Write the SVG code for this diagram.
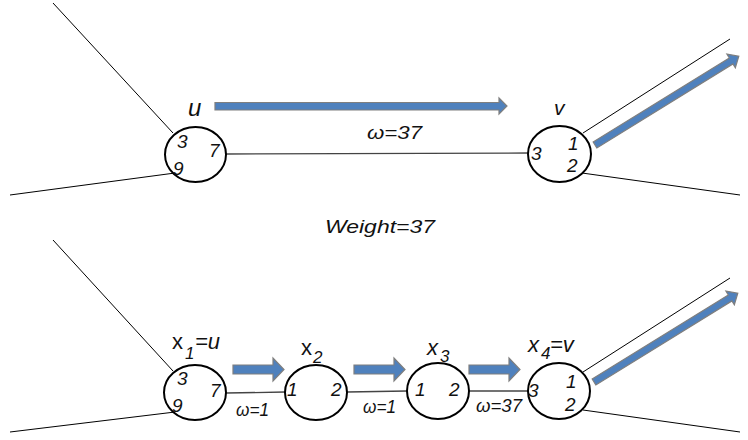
<svg xmlns="http://www.w3.org/2000/svg" width="748" height="440" viewBox="0 0 748 440">
<style>
.t{font-family:"Liberation Sans",Arial,sans-serif;font-style:italic;fill:#111}
.n{font-size:19px}
.w{font-size:19px}
.node{fill:none;stroke:#000;stroke-width:2}
.ln{stroke:#000;stroke-width:1;fill:none}
.hl{stroke:#444;stroke-width:1.3;fill:none}
.ar{fill:#4F81BD;stroke:#7F7F7F;stroke-width:1.2}
</style>
<rect width="748" height="440" fill="#fff"/>
<g id="connectors">
<line class="ln" x1="53" y1="3" x2="173" y2="133"/>
<line class="ln" x1="10" y1="195" x2="175" y2="173"/>
<line class="hl" x1="226" y1="154" x2="529" y2="153"/>
<line class="ln" x1="583" y1="133" x2="730" y2="39"/>
<line class="ln" x1="582" y1="173" x2="740" y2="195"/>
<line class="ln" x1="53" y1="240" x2="173" y2="371"/>
<line class="ln" x1="10" y1="432" x2="175" y2="412"/>
<line class="hl" x1="226" y1="393" x2="285" y2="392"/>
<line class="hl" x1="347" y1="392" x2="407" y2="391"/>
<line class="hl" x1="469" y1="391" x2="528" y2="391"/>
<line class="ln" x1="583" y1="372" x2="730" y2="278"/>
<line class="ln" x1="583" y1="410" x2="740" y2="432"/>
</g>
<g id="arrows">
<polygon class="ar" points="215,102.5 499,102.5 499,98 507,106 499,114 499,110 215,110"/>
<polygon class="ar" transform="translate(595,145) rotate(-31.7)" points="0,-3.5 160,-3.5 160,-8 169,0 160,8 160,3.5 0,3.5"/>
<polygon class="ar" points="233,365 273,365 273,358 284,369.5 273,381 273,374 233,374"/>
<polygon class="ar" points="354,365 394,365 394,358 405,369.5 394,381 394,374 354,374"/>
<polygon class="ar" points="469,365 509,365 509,358 520,369.5 509,381 509,374 469,374"/>
<polygon class="ar" transform="translate(594,382) rotate(-31.7)" points="0,-3.5 160,-3.5 160,-8 169,0 160,8 160,3.5 0,3.5"/>
</g>
<g id="u">
<ellipse class="node" cx="195.5" cy="154.5" rx="30.5" ry="27.5"/>
<text class="t" x="188" y="116" style="font-size:24px">u</text>
<text class="t n" x="177" y="148">3</text>
<text class="t n" x="209" y="157">7</text>
<text class="t n" x="173" y="175">9</text>
</g>
<g id="v">
<ellipse class="node" cx="559.5" cy="154" rx="31.5" ry="28"/>
<text class="t" x="554" y="115" style="font-size:21px">v</text>
<text class="t n" x="531" y="160">3</text>
<text class="t n" x="568" y="150">1</text>
<text class="t n" x="567" y="172">2</text>
</g>
<g id="labels">
<text class="t w" x="367" y="139" textLength="55" lengthAdjust="spacingAndGlyphs">ω=37</text>
<text class="t w" x="325" y="233" textLength="110" lengthAdjust="spacingAndGlyphs">Weight=37</text>
<text class="t w" x="236" y="416" textLength="33" lengthAdjust="spacingAndGlyphs">ω=1</text>
<text class="t w" x="363" y="413" textLength="33" lengthAdjust="spacingAndGlyphs">ω=1</text>
<text class="t w" x="476" y="412" textLength="46" lengthAdjust="spacingAndGlyphs">ω=37</text>
</g>
<g id="x1">
<ellipse class="node" cx="195" cy="392.5" rx="31" ry="27.5"/>
<text class="t" x="172" y="349" style="font-size:22px;font-style:normal">x</text>
<text class="t" x="185" y="359" style="font-size:17px">1</text>
<text class="t" x="195" y="349" style="font-size:22px">=u</text>
<text class="t n" x="177" y="385">3</text>
<text class="t n" x="210" y="397">7</text>
<text class="t n" x="172" y="412">9</text>
</g>
<g id="x2">
<ellipse class="node" cx="316" cy="392.5" rx="31" ry="27.5"/>
<text class="t" x="301" y="355" style="font-size:22px;font-style:normal">x</text>
<text class="t" x="313" y="363" style="font-size:17px">2</text>
<text class="t n" x="287" y="396">1</text>
<text class="t n" x="331" y="396">2</text>
</g>
<g id="x3">
<ellipse class="node" cx="438" cy="391" rx="31" ry="28"/>
<text class="t" x="427" y="355" style="font-size:22px">x</text>
<text class="t" x="440" y="362" style="font-size:17px">3</text>
<text class="t n" x="415" y="396">1</text>
<text class="t n" x="449" y="396">2</text>
</g>
<g id="x4">
<ellipse class="node" cx="559" cy="391" rx="31" ry="28"/>
<text class="t" x="528" y="352" style="font-size:22px">x</text>
<text class="t" x="541" y="359" style="font-size:17px">4</text>
<text class="t" x="550" y="352" style="font-size:22px">=v</text>
<text class="t n" x="528" y="397">3</text>
<text class="t n" x="566" y="388">1</text>
<text class="t n" x="565" y="411">2</text>
</g>
</svg>
